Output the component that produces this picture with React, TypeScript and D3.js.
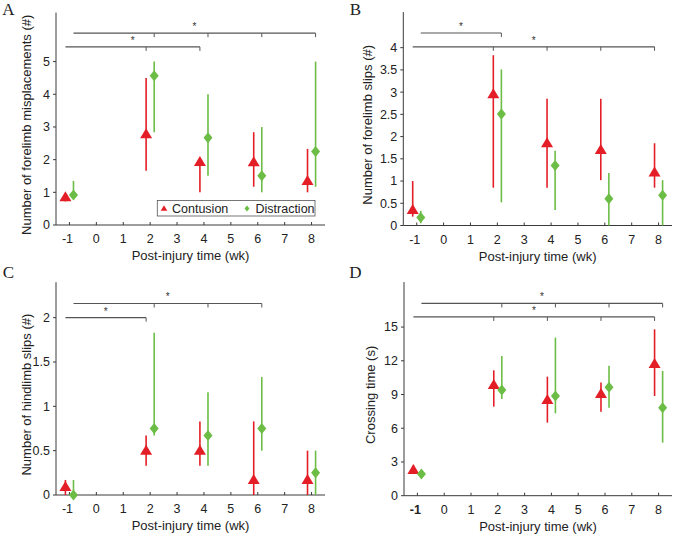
import React from "react";
import * as d3 from "d3";

const weeks = [-1, 2, 4, 6, 8];
const xTickValues = [-1, 0, 1, 2, 3, 4, 5, 6, 7, 8];

// Panel A: forelimb misplacements
const aContMean = [0.85, 2.78, 1.93, 1.92, 1.35];
const aContLo = [0.72, 1.66, 1.0, 1.17, 1.0];
const aContHi = [0.95, 4.5, 2.05, 2.84, 2.33];
const aDistMean = [0.92, 4.57, 2.67, 1.51, 2.25];
const aDistLo = [0.82, 2.84, 1.51, 1.0, 1.17];
const aDistHi = [1.35, 5.0, 4.0, 3.0, 5.0];
const aYTicks = [0, 1, 2, 3, 4, 5];

// Panel B: forelimb slips
const bContMean = [0.35, 2.95, 1.85, 1.7, 1.19];
const bContLo = [0.2, 0.85, 0.85, 1.02, 0.85];
const bContHi = [1.0, 3.83, 2.85, 2.85, 1.85];
const bDistMean = [0.18, 2.51, 1.35, 0.6, 0.68];
const bDistLo = [0.05, 0.52, 0.35, 0.0, 0.0];
const bDistHi = [0.33, 3.51, 1.68, 1.18, 1.02];
const bYTicks = [0, 0.5, 1, 1.5, 2, 2.5, 3, 3.5, 4];

// Panel C: hindlimb slips
const cContMean = [0.09, 0.5, 0.5, 0.17, 0.17];
const cContLo = [0.0, 0.33, 0.33, 0.0, 0.0];
const cContHi = [0.17, 0.67, 0.83, 0.83, 0.5];
const cDistMean = [0.0, 0.75, 0.67, 0.75, 0.25];
const cDistLo = [0.0, 0.67, 0.33, 0.5, 0.0];
const cDistHi = [0.17, 1.83, 1.16, 1.33, 0.5];
const cYTicks = [0, 0.5, 1, 1.5, 2];

// Panel D: crossing time
const dContMean = [2.29, 9.85, 8.51, 9.05, 11.72];
const dContLo = [2.0, 7.92, 6.5, 7.47, 8.87];
const dContHi = [2.7, 11.15, 10.59, 10.06, 14.8];
const dDistMean = [1.93, 9.4, 8.87, 9.64, 7.83];
const dDistLo = [1.6, 8.6, 7.33, 7.83, 4.72];
const dDistHi = [2.2, 12.43, 14.06, 11.57, 11.1];
const dYTicks = [0, 3, 6, 9, 12, 15];

// significance brackets
const aBrackets = [
  { level: 5.87, from: -0.85, to: 8.15, ticks: [2.15, 4.15, 6.15, 8.15] },
  { level: 5.45, from: -1.15, to: 3.85, ticks: [1.85, 3.85] },
];
const bBrackets = [
  { level: 4.33, from: -0.85, to: 2.15, ticks: [2.15] },
  { level: 4.02, from: -1.15, to: 7.85, ticks: [1.85, 3.85, 5.85, 7.85] },
];
const cBrackets = [
  { level: 2.16, from: -0.85, to: 6.15, ticks: [2.15, 4.15, 6.15] },
  { level: 2.0, from: -1.15, to: 1.85, ticks: [1.85] },
];
const dBrackets = [
  { level: 17.1, from: -0.85, to: 8.15, ticks: [2.15, 4.15, 6.15, 8.15] },
  { level: 15.9, from: -1.15, to: 7.85, ticks: [1.85, 3.85, 5.85, 7.85] },
];

const RED = "#e41e26";
const GREEN = "#6cbd45";
const AXIS = "#3a3a3a";
const SANS = "'Liberation Sans', Arial, sans-serif";
const OFFSET = 0.15;

function tri(x: number, y: number, s = 1) {
  return `M${x},${y - 6 * s}L${x + 6 * s},${y + 4 * s}L${x - 6 * s},${y + 4 * s}Z`;
}
function dia(x: number, y: number, s = 1) {
  return `M${x},${y - 5.5 * s}L${x + 4.5 * s},${y}L${x},${y + 5.5 * s}L${x - 4.5 * s},${y}Z`;
}

type PanelProps = {
  letter: string;
  letterX: number;
  letterY: number;
  x0: number;
  x1: number;
  yBottom: number;
  yTop: number;
  yMax: number;
  yTicks: number[];
  yLabel: string;
  yLabelX: number;
  contMean: number[];
  contLo: number[];
  contHi: number[];
  distMean: number[];
  distLo: number[];
  distHi: number[];
  brackets: { level: number; from: number; to: number; ticks: number[] }[];
  boldMinusOne?: boolean;
  legend?: boolean;
};

function Panel(p: PanelProps) {
  const x = d3.scaleLinear().domain([-1.5, 8.5]).range([p.x0, p.x1]);
  const y = d3.scaleLinear().domain([0, p.yMax]).range([p.yBottom, p.yTop]);
  const fmt = (v: number) => String(v);
  return (
    <g>
      <text x={p.letterX} y={p.letterY} fontFamily="'Liberation Serif', 'Times New Roman', serif" fontSize={17} fill="#222" textAnchor="middle">
        {p.letter}
      </text>
      <line x1={p.x0} x2={p.x0} y1={p.yTop} y2={p.yBottom} stroke={AXIS} strokeWidth={1} />
      <line x1={p.x0} x2={p.x1} y1={p.yBottom} y2={p.yBottom} stroke={AXIS} strokeWidth={1} />
      {p.yTicks.map((t) => (
        <g key={"yt" + t}>
          <line x1={p.x0 - 3} x2={p.x0} y1={y(t)} y2={y(t)} stroke={AXIS} />
          <text x={p.x0 - 6} y={y(t)} dy="0.35em" textAnchor="end" fontFamily={SANS} fontSize={12.5} fill="#222">
            {fmt(t)}
          </text>
        </g>
      ))}
      {xTickValues.map((t) => (
        <g key={"xt" + t}>
          <line x1={x(t)} x2={x(t)} y1={p.yBottom} y2={p.yBottom - 3} stroke={AXIS} />
          <text
            x={x(t) - (t < 0 ? 2 : 0)}
            y={p.yBottom + 18}
            textAnchor="middle"
            fontFamily={SANS}
            fontSize={12.5}
            fontWeight={p.boldMinusOne && t === -1 ? "bold" : "normal"}
            fill="#222"
          >
            {t < 0 ? "-" + Math.abs(t) : fmt(t)}
          </text>
        </g>
      ))}
      <text x={(p.x0 + p.x1) / 2} y={p.yBottom + 35} textAnchor="middle" fontFamily={SANS} fontSize={13} fill="#222">
        Post-injury time (wk)
      </text>
      <text
        transform={`translate(${p.yLabelX},${(p.yTop + p.yBottom) / 2 + 6}) rotate(-90)`}
        textAnchor="middle"
        dy="0.35em"
        fontFamily={SANS}
        fontSize={13}
        fill="#222"
      >
        {p.yLabel}
      </text>
      {p.brackets.map((b, i) => (
        <g key={"br" + i}>
          <line x1={x(b.from)} x2={x(b.to)} y1={y(b.level)} y2={y(b.level)} stroke="#555" strokeWidth={1.2} />
          {b.ticks.map((t) => (
            <line key={t} x1={x(t)} x2={x(t)} y1={y(b.level)} y2={y(b.level) + 4} stroke="#555" strokeWidth={1} />
          ))}
          <text x={x((b.from + b.to) / 2)} y={y(b.level) - 3} textAnchor="middle" fontFamily={SANS} fontSize={10} fill="#333">
            *
          </text>
        </g>
      ))}
      {weeks.map((w, i) => (
        <g key={"c" + w}>
          <line x1={x(w - OFFSET)} x2={x(w - OFFSET)} y1={y(p.contLo[i])} y2={y(p.contHi[i])} stroke={RED} strokeWidth={1.6} />
          <path d={tri(x(w - OFFSET), y(p.contMean[i]))} fill={RED} />
        </g>
      ))}
      {weeks.map((w, i) => (
        <g key={"d" + w}>
          <line x1={x(w + OFFSET)} x2={x(w + OFFSET)} y1={y(p.distLo[i])} y2={y(p.distHi[i])} stroke={GREEN} strokeWidth={1.6} />
          <path d={dia(x(w + OFFSET), y(p.distMean[i]))} fill={GREEN} />
        </g>
      ))}
      {p.legend && (
        <g>
          <rect x={157.3} y={200.5} width={157.7} height={15.5} fill="white" stroke="#555" strokeWidth={0.8} />
          <path d={tri(164, 208.5, 0.55)} fill={RED} />
          <text x={172} y={208.5} dy="0.35em" fontFamily={SANS} fontSize={12.5} fill="#222">
            Contusion
          </text>
          <path d={dia(247, 208.5, 0.55)} fill={GREEN} />
          <text x={255.5} y={208.5} dy="0.35em" fontFamily={SANS} fontSize={12.5} fill="#222">
            Distraction
          </text>
        </g>
      )}
    </g>
  );
}

export default function App() {
  return (
    <svg width={675} height={535} style={{ position: "absolute", left: 0, top: 0, background: "white" }}>
      <rect width={675} height={535} fill="white" />
      <Panel
        letter="A" letterX={8.5} letterY={15}
        x0={56} x1={325} yBottom={225} yTop={12.6} yMax={6.5}
        yTicks={aYTicks} yLabel="Number of forelimb misplacements (#)" yLabelX={26.5}
        contMean={aContMean} contLo={aContLo} contHi={aContHi}
        distMean={aDistMean} distLo={aDistLo} distHi={aDistHi}
        brackets={aBrackets} legend
      />
      <Panel
        letter="B" letterX={355.5} letterY={15}
        x0={403.3} x1={672} yBottom={225.5} yTop={12.1} yMax={4.8}
        yTicks={bYTicks} yLabel="Number of forelimb slips (#)" yLabelX={367.5}
        contMean={bContMean} contLo={bContLo} contHi={bContHi}
        distMean={bDistMean} distLo={bDistLo} distHi={bDistHi}
        brackets={bBrackets}
      />
      <Panel
        letter="C" letterX={8.5} letterY={278}
        x0={56} x1={325} yBottom={495} yTop={282.2} yMax={2.4}
        yTicks={cYTicks} yLabel="Number of hindlimb slips (#)" yLabelX={26.5}
        contMean={cContMean} contLo={cContLo} contHi={cContHi}
        distMean={cDistMean} distLo={cDistLo} distHi={cDistHi}
        brackets={cBrackets}
      />
      <Panel
        letter="D" letterX={355.5} letterY={278}
        x0={404} x1={672} yBottom={495.7} yTop={282.1} yMax={19}
        yTicks={dYTicks} yLabel="Crossing time (s)" yLabelX={370}
        contMean={dContMean} contLo={dContLo} contHi={dContHi}
        distMean={dDistMean} distLo={dDistLo} distHi={dDistHi}
        brackets={dBrackets} boldMinusOne
      />
    </svg>
  );
}
